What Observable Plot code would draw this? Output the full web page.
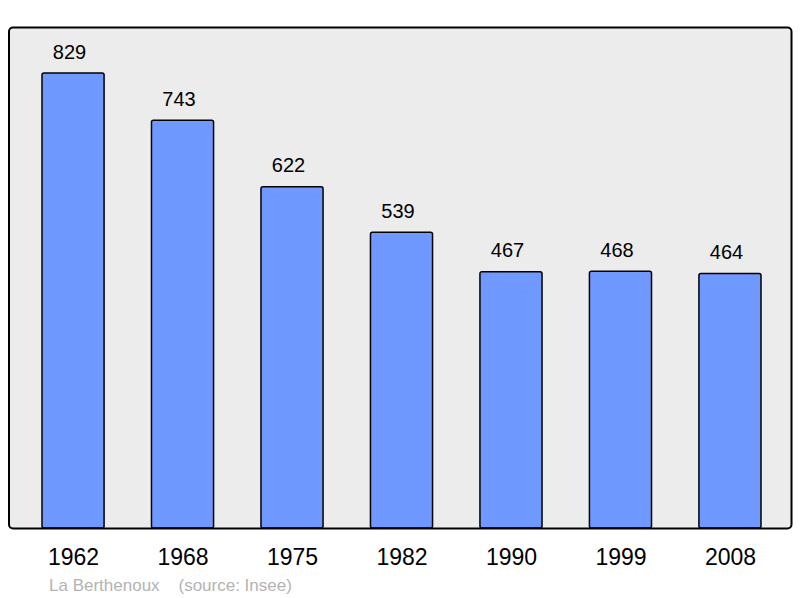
<!DOCTYPE html>
<html>
<head>
<meta charset="utf-8">
<script src="https://cdn.jsdelivr.net/npm/d3@7"></script>
<script src="https://cdn.jsdelivr.net/npm/@observablehq/plot@0.6"></script>
<style>
  body { margin: 0; background: #fff; font-family: "Liberation Sans", Arial, sans-serif; }
  #caption { margin: 2px 0 0 49px; font-size: 17px; color: #b3b3b3; white-space: pre; line-height: 20px; }
</style>
</head>
<body>
<div id="chart"></div>
<div id="caption">La Berthenoux    (source: Insee)</div>
<script>
const years = ["1962", "1968", "1975", "1982", "1990", "1999", "2008"];
const population = [829, 743, 622, 539, 467, 468, 464];

const data = years.map((y, i) => ({year: y, value: population[i]}));

const plot = Plot.plot({
  width: 800,
  height: 574,
  marginTop: 27,
  marginBottom: 46,
  marginLeft: 8.5,
  marginRight: 9,
  style: {fontFamily: "Liberation Sans, Arial, sans-serif", background: "#fff"},
  x: {type: "band", domain: years, round: false, paddingInner: 0.433, paddingOuter: 0, insetLeft: 33.5, insetRight: 30, label: null},
  y: {domain: [0, 913], axis: null},
  marks: [
    Plot.frame({fill: "#ececec", stroke: "none", rx: 4}),
    Plot.barY(data, {x: "year", y: "value", fill: "#7099ff", stroke: "#000", strokeWidth: 1.5, rx: 2}),
    Plot.frame({stroke: "#000", strokeWidth: 2, rx: 4}),
    Plot.text(data, {x: "year", y: "value", text: d => String(d.value), dx: -4, dy: -15, lineAnchor: "bottom", fontSize: 20, fill: "#000"}),
    Plot.axisX({tickSize: 0, tickPadding: 20, fontSize: 23, lineAnchor: "top", fill: "#000"})
  ]
});
document.getElementById("chart").appendChild(plot);
</script>
</body>
</html>
